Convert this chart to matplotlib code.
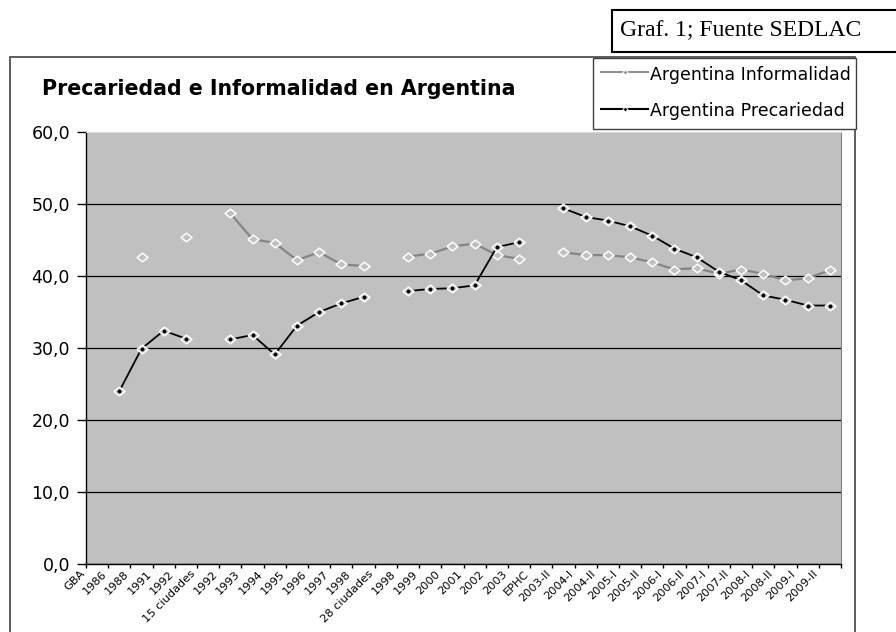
import numpy as np
import matplotlib
matplotlib.use("Agg")
import matplotlib.pyplot as plt
import matplotlib.transforms as mtransforms
from matplotlib.lines import Line2D
from matplotlib.patches import Rectangle
from matplotlib.ticker import FuncFormatter, FixedLocator

nan = np.nan

categories = ['GBA', '1986', '1988', '1991', '1992', '15 ciudades', '1992', '1993',
              '1994', '1995', '1996', '1997', '1998', '28 ciudades', '1998', '1999',
              '2000', '2001', '2002', '2003', 'EPHC', '2003-II', '2004-I', '2004-II',
              '2005-I', '2005-II', '2006-I', '2006-II', '2007-I', '2007-II', '2008-I',
              '2008-II', '2009-I', '2009-II']

informalidad = [nan, nan, 42.6, nan, 45.4, nan, 48.7, 45.1, 44.6, 42.2, 43.3, 41.6,
                41.4, nan, 42.7, 43.1, 44.1, 44.5, 42.9, 42.4, nan, 43.3, 42.9, 42.9,
                42.6, 41.9, 40.9, 41.1, 40.3, 40.9, 40.3, 39.4, 39.7, 40.8]

precariedad = [nan, 24.0, 29.9, 32.4, 31.3, nan, 31.2, 31.8, 29.1, 33.1, 35.0, 36.2,
               37.1, nan, 37.9, 38.2, 38.3, 38.7, 44.0, 44.7, nan, 49.4, 48.2, 47.7,
               46.9, 45.6, 43.8, 42.6, 40.6, 39.4, 37.3, 36.7, 35.9, 35.9]

series_names = ['Argentina Informalidad', 'Argentina Precariedad']
title = 'Precariedad e Informalidad en Argentina'
source = 'Graf. 1; Fuente SEDLAC'
y_ticks = [0, 10, 20, 30, 40, 50, 60]

W, H = 896, 632
fig = plt.figure(figsize=(W / 100, H / 100), dpi=100)
fig.patch.set_facecolor('white')


def fx(x):
    return x / W


def fy(y):
    return 1 - y / H


# chart area border
fig.add_artist(Rectangle((fx(10), fy(650)), fx(855) - fx(10), fy(57) - fy(650),
                         transform=fig.transFigure, fill=False, ec='#505050',
                         lw=1.3, zorder=0))

ax = fig.add_axes([fx(86), fy(564), (841 - 86) / W, (564 - 132) / H])
ax.set_facecolor('#C0C0C0')

x = np.arange(len(categories))
diamond = [(-1, 0), (0, 0.78), (1, 0), (0, -0.78), (-1, 0)]

ax.plot(x, informalidad, color='#858585', lw=1.6, marker=diamond, ms=8,
        mfc='#C0C0C0', mec='white', mew=1.1, zorder=3, clip_on=False)
ax.plot(x, precariedad, color='black', lw=1.3, marker=diamond, ms=8,
        mfc='#C0C0C0', mec='white', mew=1.1, zorder=4, clip_on=False)
ax.plot(x, precariedad, ls='none', marker='o', ms=1.8, mfc='black', mec='black',
        zorder=5, clip_on=False)

ax.set_xlim(-0.5, len(categories) - 0.5)
ax.set_ylim(0, 60)

# y axis
ax.set_yticks(y_ticks)
ax.yaxis.set_major_formatter(FuncFormatter(lambda v, p: f"{v:.1f}".replace('.', ',')))
ax.tick_params(axis='y', length=6.5, width=1, pad=5, labelsize=12.5, colors='black')
ax.yaxis.grid(True, color='black', lw=0.9)
ax.set_axisbelow(True)
for gl in ax.yaxis.get_gridlines()[-1:]:
    gl.set_visible(False)

# x axis
ax.set_xticks(x)
ax.set_xticklabels(categories, rotation=45, ha='right', va='center',
                   rotation_mode='anchor', fontsize=8.2)
ax.xaxis.set_minor_locator(FixedLocator(np.arange(-0.5, len(categories), 1)))
ax.tick_params(axis='x', which='major', length=0, pad=5.8)
ax.tick_params(axis='x', which='minor', length=3, width=1, direction='out')
offset = mtransforms.ScaledTranslation(-0.14, 0, fig.dpi_scale_trans)
for lbl in ax.xaxis.get_majorticklabels():
    lbl.set_transform(lbl.get_transform() + offset)

for s in ['left', 'bottom']:
    ax.spines[s].set_color('black')
    ax.spines[s].set_linewidth(1)
ax.spines['top'].set_color('#DADADA')
ax.spines['right'].set_color('#808080')

# title
fig.text(fx(42), fy(95), title, fontsize=14.8, fontweight='bold', va='baseline',
         ha='left', color='black')

# legend box
fig.add_artist(Rectangle((fx(593), fy(129)), fx(856) - fx(593), fy(58) - fy(129),
                         transform=fig.transFigure, fc='white', ec='#404040',
                         lw=1.0, zorder=5))
leg_colors = ['#909090', 'black']
leg_line_y = [72, 109]
leg_text_y = [80, 116]
for name, col, ly, ty in zip(series_names, leg_colors, leg_line_y, leg_text_y):
    fig.add_artist(Line2D([fx(601), fx(648)], [fy(ly), fy(ly)], color=col, lw=1.5,
                          transform=fig.transFigure, zorder=6))
    fig.add_artist(Line2D([fx(624.5)], [fy(ly)], color=col, marker='D', ms=2.6,
                          mfc=col, mec='white', mew=0.7,
                          transform=fig.transFigure, zorder=7))
    fig.text(fx(650), fy(ty), name, fontsize=12.5, va='baseline', ha='left',
             color='black', zorder=7)

# source box
fig.add_artist(Rectangle((fx(612), fy(52)), fx(905) - fx(612), fy(10) - fy(52),
                         transform=fig.transFigure, fc='white', ec='black',
                         lw=1.5, zorder=5))
fig.text(fx(620), fy(31), source, fontsize=17, family='Liberation Serif',
         va='center', ha='left', color='black', zorder=6)

fig.savefig('out.png', dpi=100)
